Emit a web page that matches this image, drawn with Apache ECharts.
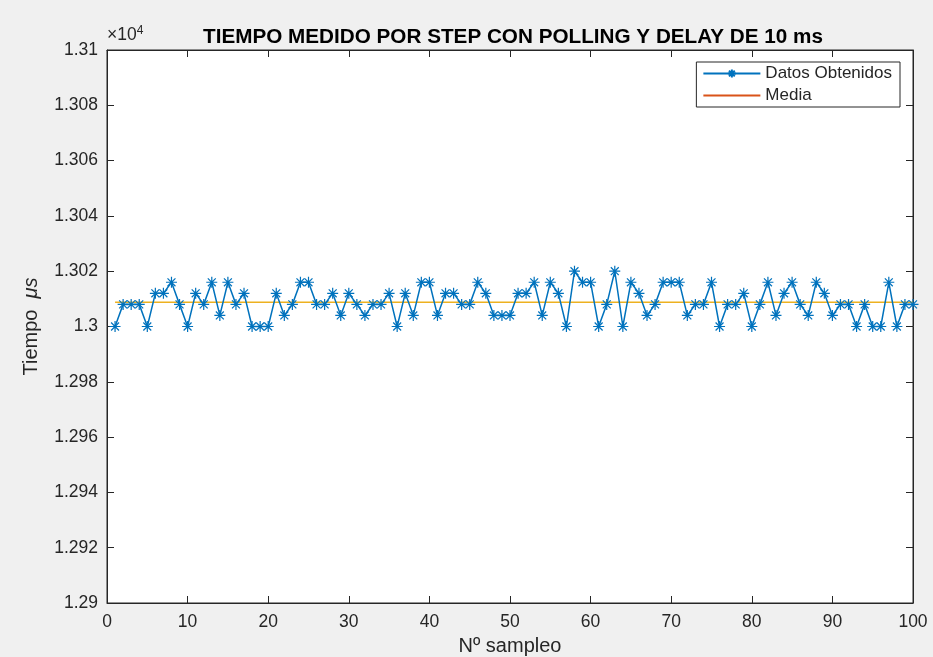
<!DOCTYPE html>
<html>
<head>
<meta charset="utf-8">
<script src="https://cdn.jsdelivr.net/npm/echarts@6/dist/echarts.min.js"></script>
<style>html,body{margin:0;padding:0;background:#f0f0f0;}#c{width:933px;height:657px;}</style>
</head>
<body>
<div id="c"></div>
<script>
const samples = [];
for (let i = 1; i <= 100; i++) samples.push(i);
// Tiempo (μs)
const tiempos = [
  13000,13008,13008,13008,13000,13012,13012,13016,13008,13000,
  13012,13008,13016,13004,13016,13008,13012,13000,13000,13000,
  13012,13004,13008,13016,13016,13008,13008,13012,13004,13012,
  13008,13004,13008,13008,13012,13000,13012,13004,13016,13016,
  13004,13012,13012,13008,13008,13016,13012,13004,13004,13004,
  13012,13012,13016,13004,13016,13012,13000,13020,13016,13016,
  13000,13008,13020,13000,13016,13012,13004,13008,13016,13016,
  13016,13004,13008,13008,13016,13000,13008,13008,13012,13000,
  13008,13016,13004,13012,13016,13008,13004,13016,13012,13004,
  13008,13008,13000,13008,13000,13000,13016,13000,13008,13008
];
const mediaValue = 13008.8;
const mediaRange = [1, 100];
const yTicks = ['1.29','1.292','1.294','1.296','1.298','1.3','1.302','1.304','1.306','1.308','1.31'];

const txt = '#262626';
const font = 'Liberation Sans, Arial, Helvetica, sans-serif';
const asterisk = 'path://M0,-5L0,5M-5,0L5,0M-3.6,-3.6L3.6,3.6M-3.6,3.6L3.6,-3.6';

const chart = echarts.init(document.getElementById('c'), null, {renderer: 'canvas'});
function axisCommon() {
  return {
    axisLine: {show: true, onZero: false, lineStyle: {color: txt, width: 1}},
    axisTick: {show: true, inside: true, length: 7, lineStyle: {color: txt, width: 1}},
    splitLine: {show: false}
  };
}
chart.setOption({
  backgroundColor: '#f0f0f0',
  animation: false,
  textStyle: {fontFamily: font},
  title: {
    text: 'TIEMPO MEDIDO POR STEP CON POLLING Y DELAY DE 10 ms',
    left: 508, top: 22, textAlign: 'center',
    textStyle: {fontFamily: font, fontWeight: 'bold', fontSize: 20.7, color: '#000'}
  },
  grid: {left: 107, right: 20, top: 50, bottom: 54, show: true, outerBoundsMode: 'none', containLabel: false,
    backgroundColor: '#fff', borderColor: txt, borderWidth: 1},
  legend: {
    orient: 'vertical', right: 33, top: 62,
    itemWidth: 57, itemHeight: 10, itemGap: 5,
    padding: [3, 8, 3, 6],
    backgroundColor: '#fff', borderColor: txt, borderWidth: 1, borderRadius: 0,
    textStyle: {fontFamily: font, fontSize: 17, color: txt},
    data: [
      {name: 'Datos Obtenidos'},
      {name: 'Media', itemStyle: {color: '#D95319', opacity: 0}, lineStyle: {color: '#D95319', opacity: 1}}
    ]
  },
  xAxis: [
    Object.assign({type: 'value', min: 0, max: 100, interval: 10,
      name: 'Nº sampleo', nameLocation: 'middle', nameGap: 33,
      nameTextStyle: {fontFamily: font, fontSize: 20, color: txt},
      axisLabel: {fontFamily: font, fontSize: 17.5, color: txt, margin: 10}}, axisCommon()),
    Object.assign({type: 'value', min: 0, max: 100, interval: 10, position: 'top',
      axisLabel: {show: false}}, axisCommon())
  ],
  yAxis: [
    Object.assign({type: 'value', min: 12900, max: 13100, interval: 20,
      name: '{n|Tiempo}  {i|μs}', nameLocation: 'middle', nameGap: 66,
      nameTextStyle: {fontFamily: font, fontSize: 20, color: txt,
        rich: {n: {fontFamily: font, fontSize: 20, color: txt}, i: {fontFamily: font, fontSize: 20, color: txt, fontStyle: 'italic'}}},
      axisLabel: {fontFamily: font, fontSize: 17.5, color: txt, margin: 9,
        formatter: function (v) { const idx = Math.round((v - 12900) / 20); return yTicks[idx]; }}}, axisCommon()),
    Object.assign({type: 'value', min: 12900, max: 13100, interval: 20, position: 'right',
      axisLabel: {show: false}}, axisCommon())
  ],
  graphic: [{
    type: 'text', left: 107, top: 25,
    style: {text: '×10{s|4}', fontFamily: font, fontSize: 17.5, fill: txt,
      rich: {s: {fontFamily: font, fontSize: 12, verticalAlign: 'top', padding: [0,0,8,0], fill: txt}}}
  }],
  series: [
    {
      name: 'Datos Obtenidos', type: 'line',
      data: samples.map((s, i) => [s, tiempos[i]]),
      symbol: asterisk, symbolSize: 11, showAllSymbol: true,
      lineStyle: {color: '#0072BD', width: 1.5},
      itemStyle: {color: '#0072BD', borderColor: '#0072BD', borderWidth: 1.2},
      z: 3
    },
    {
      name: 'Media', type: 'line',
      data: mediaRange.map(s => [s, mediaValue]),
      symbol: 'none',
      lineStyle: {color: '#EDB120', width: 1.5},
      itemStyle: {color: '#EDB120'},
      z: 2
    }
  ]
});
</script>
</body>
</html>
